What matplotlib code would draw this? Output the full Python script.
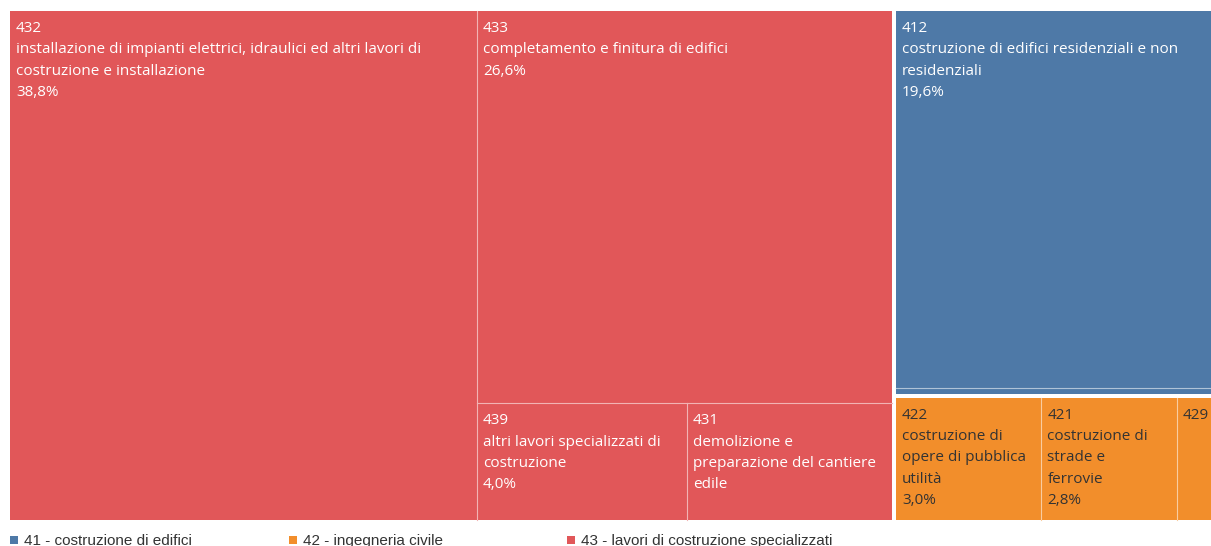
import matplotlib
matplotlib.use("Agg")
import matplotlib.pyplot as plt
from matplotlib.patches import Rectangle
from matplotlib.font_manager import FontProperties
from matplotlib.colors import to_rgb

# ---------------- data ----------------
group_codes = ["43", "41", "42"]
group_names = ["lavori di costruzione specializzati", "costruzione di edifici", "ingegneria civile"]
group_colors = ["#E15759", "#4E79A7", "#F28E2B"]
label_colors = ["white", "white", "#333333"]

leaf_codes = [["432", "433", "439", "431"], ["412", "411"], ["422", "421", "429"]]
leaf_names = [
    ["installazione di impianti elettrici, idraulici ed altri lavori di costruzione e installazione",
     "completamento e finitura di edifici",
     "altri lavori specializzati di costruzione",
     "demolizione e preparazione del cantiere edile"],
    ["costruzione di edifici residenziali e non residenziali",
     "sviluppo di progetti immobiliari"],
    ["costruzione di opere di pubblica utilità",
     "costruzione di strade e ferrovie",
     "costruzione di altre opere di ingegneria civile"],
]
leaf_pcts = [[38.8, 26.6, 4.0, 3.9], [19.6, 0.3], [3.0, 2.8, 0.7]]

# ---------------- layout helpers ----------------
W, H = 1205, 513          # layout area in pixels
GAP = 2                   # half gap between groups
PAD_X, PAD_R, PAD_TOP, PAD_BOT = 6, 12, 10, 4
LINE_H = 21.3
label_font = FontProperties(family=["Open Sans", "DejaVu Sans"], size=11)


def worst(row, side):
    s = sum(row)
    return max(max(side * side * r / (s * s), s * s / (side * side * r)) for r in row)


def squarify(values, x, y, w, h):
    total = sum(values)
    areas = [v * w * h / total for v in values]
    rects = []
    i = 0
    while i < len(areas):
        side = min(w, h)
        row = [areas[i]]
        j = i + 1
        while j < len(areas) and worst(row + [areas[j]], side) <= worst(row, side):
            row.append(areas[j])
            j += 1
        s = sum(row)
        if w >= h:
            cw = s / h
            yy = y
            for a in row:
                rects.append((x, yy, cw, a / cw))
                yy += a / cw
            x += cw
            w -= cw
        else:
            rh = s / w
            xx = x
            for a in row:
                rects.append((xx, y, a / rh, rh))
                xx += a / rh
            y += rh
            h -= rh
        i = j
    return rects


def fmt_pct(v):
    return f"{v:.1f}%".replace(".", ",")


def text_w(s, renderer):
    return renderer.get_text_width_height_descent(s, label_font, ismath=False)[0]


def wrap(text, width, renderer):
    lines, cur = [], ""
    for wd in text.split():
        trial = wd if not cur else cur + " " + wd
        if text_w(trial, renderer) <= width or not cur:
            cur = trial
        else:
            lines.append(cur)
            cur = wd
    if cur:
        lines.append(cur)
    return lines


def lighten(c, f):
    r, g, b = to_rgb(c)
    return (r + (1 - r) * f, g + (1 - g) * f, b + (1 - b) * f)


# ---------------- figure ----------------
fig = plt.figure(figsize=(12.11, 5.46), dpi=100)
ax = fig.add_axes([8 / 1211, (546 - 522) / 546, 1205 / 1211, 513 / 546])
ax.set_xlim(0, W)
ax.set_ylim(H, 0)
ax.axis("off")
renderer = fig.canvas.get_renderer()

group_sizes = [sum(p) for p in leaf_pcts]
group_rects = squarify(group_sizes, 0, 0, W, H)

for gi, (gx, gy, gw, gh) in enumerate(group_rects):
    gx, gy, gw, gh = gx + GAP, gy + GAP, gw - 2 * GAP, gh - 2 * GAP
    color = group_colors[gi]
    ax.add_patch(Rectangle((gx, gy), gw, gh, facecolor=color, edgecolor="none"))
    sep = lighten(color, 0.55)
    leaves = squarify(leaf_pcts[gi], gx, gy, gw, gh)
    for li, (lx, ly, lw, lh) in enumerate(leaves):
        if lx > gx + 0.5:
            ax.plot([lx, lx], [ly, ly + lh], color=sep, lw=0.8)
        if ly > gy + 0.5:
            ax.plot([lx, lx + lw], [ly, ly], color=sep, lw=0.8)
        # label lines, only those that fit in the box
        avail_w = lw - PAD_X - PAD_R
        lines = [leaf_codes[gi][li]] + wrap(leaf_names[gi][li], avail_w, renderer) + [fmt_pct(leaf_pcts[gi][li])]
        for k, line in enumerate(lines):
            limit = lw - PAD_X if k == 0 else avail_w
            if text_w(line, renderer) > limit or PAD_TOP + (k + 1) * LINE_H + PAD_BOT > lh:
                break
            ax.text(lx + PAD_X, ly + PAD_TOP + k * LINE_H, line, fontproperties=label_font,
                    color=label_colors[gi], ha="left", va="top")

# ---------------- legend ----------------
legend_order = sorted(range(len(group_codes)), key=lambda i: group_codes[i])
legend_x = [10, 289, 567]
for pos, gi in zip(legend_x, legend_order):
    fig.patches.append(Rectangle((pos / 1211, 2 / 546), 8 / 1211, 8 / 546,
                                 facecolor=group_colors[gi], edgecolor="none",
                                 transform=fig.transFigure, figure=fig))
    fig.text((pos + 14) / 1211, 1 / 546, f"{group_codes[gi]} - {group_names[gi]}",
             fontsize=11, family="Liberation Sans", color="#333333",
             ha="left", va="baseline")

fig.savefig("out.png", dpi=100)
